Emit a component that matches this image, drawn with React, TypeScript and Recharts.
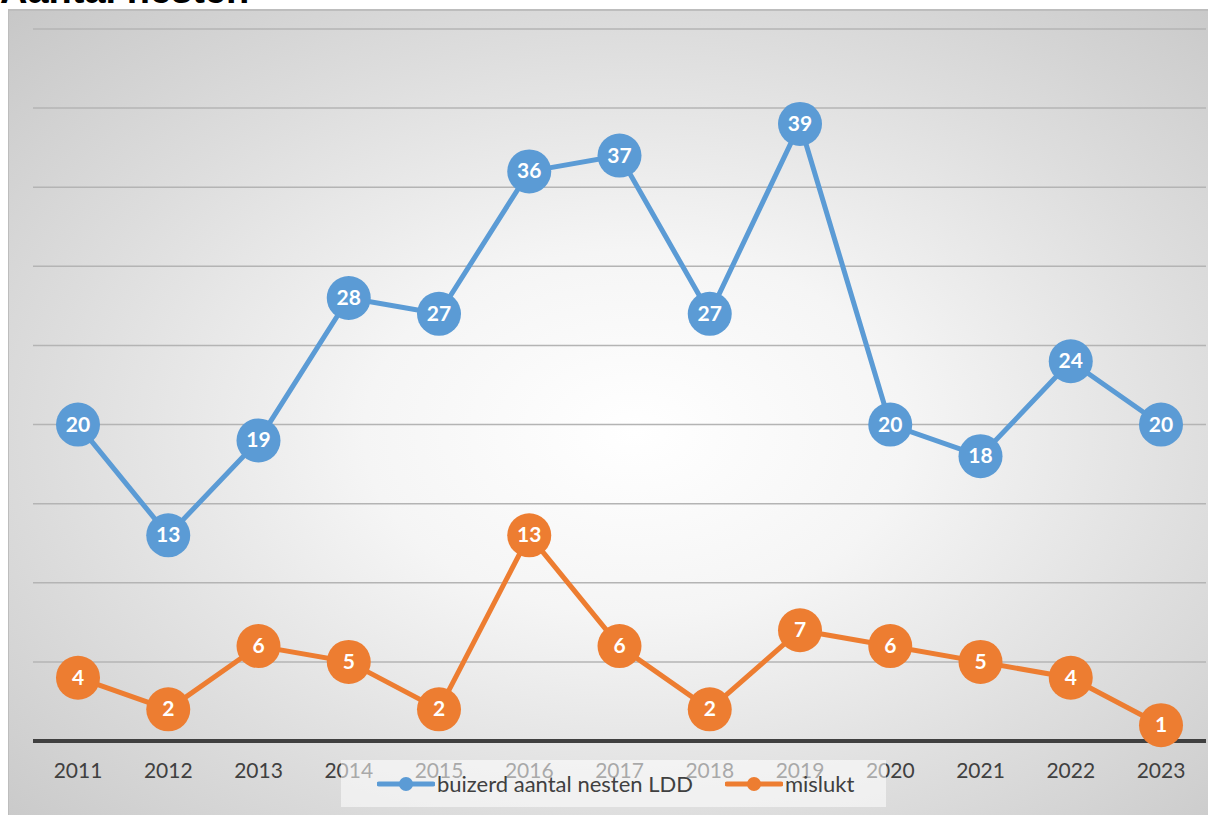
import React from 'react';
import { LineChart, Line, XAxis, YAxis, CartesianGrid, LabelList } from 'recharts';

const jaren = ['2011', '2012', '2013', '2014', '2015', '2016', '2017', '2018', '2019', '2020', '2021', '2022', '2023'];
const nesten = [20, 13, 19, 28, 27, 36, 37, 27, 39, 20, 18, 24, 20];
const mislukt = [4, 2, 6, 5, 2, 13, 6, 2, 7, 6, 5, 4, 1];
const yTicks = [0, 5, 10, 15, 20, 25, 30, 35, 40, 45];

const BLAUW = '#5B9BD5';
const ORANJE = '#ED7D31';
const FONT = 'Lato, "Open Sans", sans-serif';

const data = jaren.map((jaar, i) => ({ jaar, nesten: nesten[i], mislukt: mislukt[i] }));

// witte cijfers midden in de bolletjes
const renderLabel = (props: any) => {
  const { x, y, value } = props;
  return (
    <text x={x} y={y} dy={7} textAnchor="middle" fill="#fff" fontSize={21} fontWeight={700} fontFamily={FONT}>
      {value}
    </text>
  );
};

const LegendItem = ({ color, label }: { color: string; label: string }) => (
  <div style={{ display: 'flex', alignItems: 'center' }}>
    <svg width={58} height={14} style={{ marginRight: 2 }}>
      <line x1={2} y1={7} x2={56} y2={7} stroke={color} strokeWidth={5} strokeLinecap="round" />
      <circle cx={29} cy={7} r={7} fill={color} />
    </svg>
    <span>{label}</span>
  </div>
);

export default function App() {
  return (
    <div style={{ position: 'absolute', left: 0, top: 0, width: 1208, height: 815, overflow: 'hidden', background: '#fff' }}>
      <div style={{ position: 'absolute', left: 0, top: -29, fontFamily: 'Arial, "Liberation Sans", sans-serif', fontWeight: 700, fontSize: 38, lineHeight: '38px', color: '#000' }}>
        Aantal nesten
      </div>
      <div
        style={{
          position: 'absolute', left: 8, top: 9, width: 1204, height: 810,
          borderTop: '2px solid #bdbdbd', borderLeft: '1px solid #bdbdbd',
          background: 'radial-gradient(ellipse 75% 75% at 52% 52%, #ffffff 0%, #f5f5f5 30%, #dddddd 65%, #c6c6c6 100%)',
        }}
      >
        <LineChart width={1200} height={806} data={data} margin={{ top: 18, right: 3, left: 24, bottom: 16 }}>
          <CartesianGrid horizontal vertical={false} stroke="#b4b4b4" strokeWidth={1.5} />
          <YAxis hide domain={[0, 45]} ticks={yTicks} />
          <XAxis
            dataKey="jaar"
            height={60}
            padding={{ left: 45, right: 45 }}
            axisLine={{ stroke: '#404040', strokeWidth: 4 }}
            tickLine={false}
            tickSize={6}
            tickMargin={16}
            interval={0}
            tick={{ fill: '#404040', fontSize: 21, fontFamily: FONT }}
          />
          <Line
            dataKey="nesten"
            stroke={BLAUW}
            strokeWidth={5}
            dot={{ r: 22, fill: BLAUW, stroke: 'none' }}
            activeDot={false}
            isAnimationActive={false}
          >
            <LabelList dataKey="nesten" content={renderLabel} />
          </Line>
          <Line
            dataKey="mislukt"
            stroke={ORANJE}
            strokeWidth={5}
            dot={{ r: 22, fill: ORANJE, stroke: 'none' }}
            activeDot={false}
            isAnimationActive={false}
          >
            <LabelList dataKey="mislukt" content={renderLabel} />
          </Line>
        </LineChart>
        <div
          style={{
            position: 'absolute', left: 332, top: 749, width: 545, height: 47,
            background: 'rgba(255,255,255,0.55)', display: 'flex', alignItems: 'center',
            fontFamily: FONT, fontSize: 22, color: '#404040', paddingLeft: 36, boxSizing: 'border-box', gap: 32,
          }}
        >
          <LegendItem color={BLAUW} label="buizerd aantal nesten LDD" />
          <LegendItem color={ORANJE} label="mislukt" />
        </div>
      </div>
    </div>
  );
}
